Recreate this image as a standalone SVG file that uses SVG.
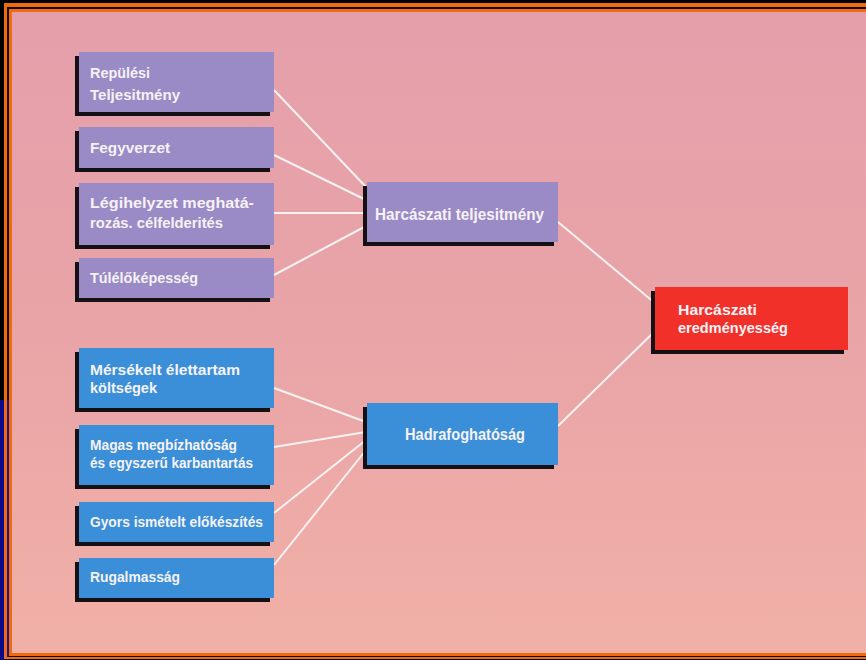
<svg xmlns="http://www.w3.org/2000/svg" width="866" height="660" viewBox="0 0 866 660">
<defs>
<linearGradient id="bg" x1="0" y1="0" x2="0" y2="1">
<stop offset="0" stop-color="#e49fab"/>
<stop offset="0.5" stop-color="#e9a4a7"/>
<stop offset="1" stop-color="#f1b0a7"/>
</linearGradient>
<style>
.sh{fill:#141014}
.pu{fill:#9a8ac6}
.bl{fill:#3a8fd8}
.rd{fill:#f2302a}
.t{font-family:"Liberation Sans","Noto Sans",Arial,sans-serif;font-weight:bold;font-size:15px;fill:#f6f2f4}
.tm{font-size:17px}
.c line{stroke:#f8f2f2;stroke-width:2}
</style>
</defs>
<rect x="0" y="0" width="866" height="660" fill="#000"/>
<rect x="0" y="400" width="4" height="260" fill="#0a0a8a"/>
<rect x="4" y="3" width="862" height="656" fill="#f06a10"/>
<rect x="7" y="7" width="859" height="650" fill="#120808"/>
<rect x="7" y="400" width="2" height="257" fill="#1a1490"/>
<rect x="9" y="9" width="857" height="647" fill="#f06a10"/>
<rect x="12" y="12" width="854" height="641" fill="url(#bg)"/>

<g id="connectors" class="c">
<line x1="274" y1="90" x2="366" y2="187"/>
<line x1="274" y1="155" x2="366" y2="200"/>
<line x1="274" y1="213" x2="366" y2="213"/>
<line x1="274" y1="275" x2="366" y2="226"/>
<line x1="274" y1="388" x2="366" y2="422"/>
<line x1="274" y1="447" x2="366" y2="432"/>
<line x1="274" y1="513" x2="366" y2="440"/>
<line x1="274" y1="565" x2="366" y2="450"/>
<line x1="558" y1="222" x2="656" y2="304"/>
<line x1="558" y1="426" x2="656" y2="330"/>
</g>

<g id="n1"><rect class="sh" x="75" y="56" width="195" height="60"/><rect class="pu" x="79" y="52" width="195" height="60"/>
<text class="t" x="90" y="78" textLength="60" lengthAdjust="spacingAndGlyphs">Repülési</text><text class="t" x="90" y="100" textLength="90" lengthAdjust="spacingAndGlyphs">Teljesitmény</text></g>
<g id="n2"><rect class="sh" x="75" y="131" width="195" height="41"/><rect class="pu" x="79" y="127" width="195" height="41"/>
<text class="t" x="90" y="153" textLength="80" lengthAdjust="spacingAndGlyphs">Fegyverzet</text></g>
<g id="n3"><rect class="sh" x="75" y="187" width="195" height="62"/><rect class="pu" x="79" y="183" width="195" height="62"/>
<text class="t" x="90" y="208" textLength="164" lengthAdjust="spacingAndGlyphs">Légihelyzet meghatá-</text><text class="t" x="90" y="228" textLength="133" lengthAdjust="spacingAndGlyphs">rozás. célfelderités</text></g>
<g id="n4"><rect class="sh" x="75" y="262" width="195" height="40"/><rect class="pu" x="79" y="258" width="195" height="40"/>
<text class="t" x="90" y="283" textLength="108" lengthAdjust="spacingAndGlyphs">Túlélőképesség</text></g>

<g id="n5"><rect class="sh" x="75" y="352" width="195" height="60"/><rect class="bl" x="79" y="348" width="195" height="60"/>
<text class="t" x="90" y="375" textLength="150" lengthAdjust="spacingAndGlyphs">Mérsékelt élettartam</text><text class="t" x="90" y="393" textLength="67" lengthAdjust="spacingAndGlyphs">költségek</text></g>
<g id="n6"><rect class="sh" x="75" y="429" width="195" height="60"/><rect class="bl" x="79" y="425" width="195" height="60"/>
<text class="t" x="90" y="450" textLength="147" lengthAdjust="spacingAndGlyphs">Magas megbízhatóság</text><text class="t" x="90" y="468" textLength="163" lengthAdjust="spacingAndGlyphs">és egyszerű karbantartás</text></g>
<g id="n7"><rect class="sh" x="75" y="506" width="195" height="40"/><rect class="bl" x="79" y="502" width="195" height="40"/>
<text class="t" x="90" y="527" textLength="173" lengthAdjust="spacingAndGlyphs">Gyors ismételt előkészítés</text></g>
<g id="n8"><rect class="sh" x="75" y="562" width="195" height="40"/><rect class="bl" x="79" y="558" width="195" height="40"/>
<text class="t" x="90" y="582" textLength="90" lengthAdjust="spacingAndGlyphs">Rugalmasság</text></g>

<g id="m1"><rect class="sh" x="363" y="186" width="191" height="60"/><rect class="pu" x="367" y="182" width="191" height="60"/>
<text class="t tm" x="375" y="220" textLength="169" lengthAdjust="spacingAndGlyphs">Harcászati teljesitmény</text></g>
<g id="m2"><rect class="sh" x="363" y="407" width="191" height="62"/><rect class="bl" x="367" y="403" width="191" height="62"/>
<text class="t tm" x="405" y="440" textLength="120" lengthAdjust="spacingAndGlyphs">Hadrafoghatóság</text></g>

<g id="r1"><rect class="sh" x="651" y="291" width="193" height="63"/><rect class="rd" x="655" y="287" width="193" height="63"/>
<text class="t" x="678" y="315" textLength="79" lengthAdjust="spacingAndGlyphs">Harcászati</text><text class="t" x="678" y="333" textLength="110" lengthAdjust="spacingAndGlyphs">eredményesség</text></g>
</svg>
